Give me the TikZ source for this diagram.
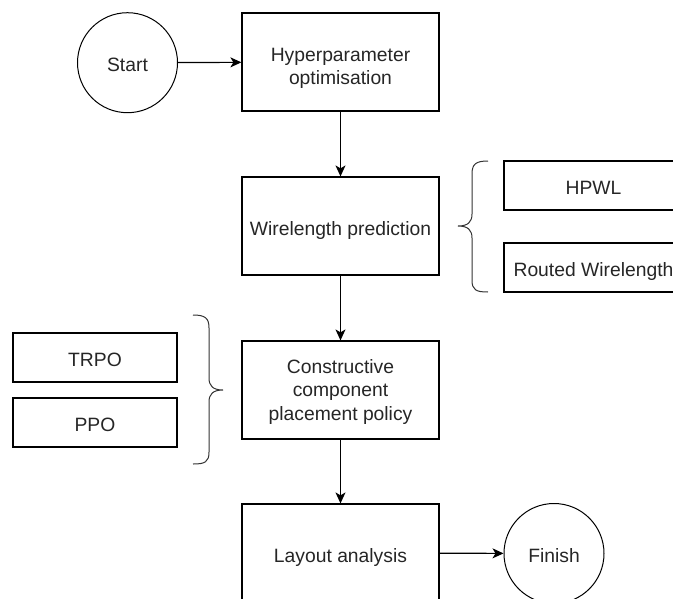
\documentclass[tikz,border=0pt]{standalone}
\usepackage{fontspec}
\setmainfont{Liberation Sans}
\usetikzlibrary{arrows.meta}
\begin{document}
\begin{tikzpicture}[x=1pt,y=-1pt,
  txt/.style={font=\fontsize{19.3}{23.5}\selectfont, text=black!85,
    text depth=0pt, execute at begin node={\rule{0pt}{18pt}}},
  box/.style={txt, draw, line width=1.2pt, minimum width=197pt, minimum height=98pt,
    align=center, inner sep=0pt},
  option/.style={txt, draw, line width=1.2pt, minimum height=49pt, align=center, inner sep=0pt},
  term/.style={txt, draw, circle, line width=1pt, minimum size=100pt, inner sep=0pt},
  flow/.style={-{Stealth[length=11pt,width=10pt,inset=3pt]}, line width=1.2pt},
  brace/.style={line width=1pt, black!80}]
  \useasboundingbox (0,0) rectangle (673,598);
  \clip (0,0) rectangle (673,598);
  \fill[white] (0,0) rectangle (673,598);

  % main flow
  \node[term] (start) at (127.5,62.7) {Start};
  \node[box] (hyper) at (340.5,62) {\rule{0pt}{22pt}Hyperparameter\\optimisation};
  \node[box] (wire) at (340.5,226) {Wirelength prediction};
  \node[box] (cons) at (340.5,390) {Constructive\\component\\placement policy};
  \node[box] (layout) at (340.5,553) {Layout analysis};
  \node[term] (finish) at (554,553.5) {Finish};

  \draw[flow] (start) -- (hyper);
  \draw[flow] (hyper) -- (wire);
  \draw[flow] (wire) -- (cons);
  \draw[flow] (cons) -- (layout);
  \draw[flow] (layout) -- (finish);

  % wirelength variants
  \node[option, minimum width=179pt] (hpwl) at (593.5,185.5) {HPWL};
  \node[option, minimum width=179pt] (routed) at (593.5,267.5) {Routed Wirelength};

  % policy algorithms
  \node[option, minimum width=164pt] (trpo) at (95,357.5) {TRPO};
  \node[option, minimum width=164pt] (ppo) at (95,422.5) {PPO};

  % brace grouping the wirelength variants (opens to the right)
  \draw[brace] (488,161) .. controls (476,161) and (472,164) .. (472,174)
    -- (472,214) .. controls (472,222) and (468,226) .. (458,226)
    .. controls (468,226) and (472,230) .. (472,238)
    -- (472,280) .. controls (472,290) and (476,292) .. (488,292);

  % brace grouping the policy algorithms (opens to the left)
  \draw[brace] (193,315) .. controls (205,315) and (209,318) .. (209,328)
    -- (209,378) .. controls (209,386) and (213,390) .. (223,390)
    .. controls (213,390) and (209,394) .. (209,402)
    -- (209,452) .. controls (209,462) and (205,464) .. (193,464);
\end{tikzpicture}
\end{document}
